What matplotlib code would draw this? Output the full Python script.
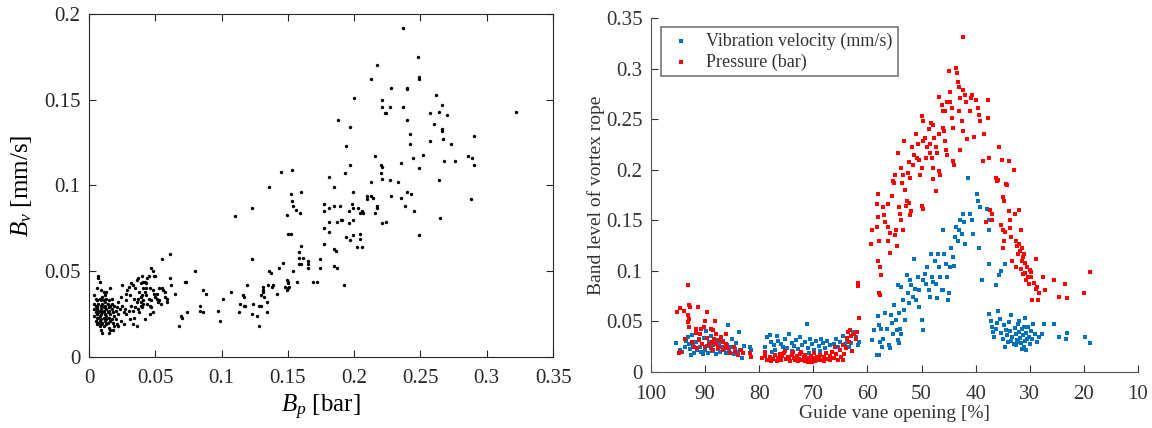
import numpy as np
import matplotlib
matplotlib.use("Agg")
import matplotlib.pyplot as plt
from matplotlib.ticker import FuncFormatter, MultipleLocator

plt.rcParams['font.family'] = ['Liberation Serif', 'DejaVu Serif']
plt.rcParams['mathtext.fontset'] = 'custom'
plt.rcParams['mathtext.rm'] = 'Liberation Serif'
plt.rcParams['mathtext.it'] = 'Liberation Serif:italic'

# ---- left panel: B_p [bar] vs B_v [mm/s] ----
bp_bv = [
    (0.237, 0.192), (0.248, 0.175), (0.249, 0.163), (0.249, 0.162), (0.217, 0.170), (0.213, 0.162),
    (0.228, 0.157), (0.240, 0.157), (0.240, 0.156), (0.200, 0.151), (0.221, 0.150), (0.221, 0.146),
    (0.227, 0.146), (0.223, 0.142), (0.224, 0.142), (0.237, 0.146), (0.240, 0.138), (0.188, 0.138),
    (0.262, 0.153), (0.257, 0.142), (0.264, 0.143), (0.270, 0.141), (0.266, 0.147), (0.260, 0.136),
    (0.266, 0.133), (0.266, 0.132), (0.322, 0.143), (0.197, 0.134), (0.242, 0.130), (0.242, 0.124),
    (0.273, 0.124), (0.267, 0.127), (0.257, 0.126), (0.290, 0.129), (0.194, 0.123), (0.197, 0.112),
    (0.216, 0.117), (0.220, 0.112), (0.221, 0.111), (0.235, 0.113), (0.244, 0.116), (0.252, 0.118),
    (0.268, 0.114), (0.276, 0.114), (0.286, 0.117), (0.289, 0.116), (0.290, 0.112), (0.249, 0.110),
    (0.220, 0.107), (0.221, 0.104), (0.193, 0.107), (0.145, 0.108), (0.153, 0.109), (0.136, 0.099),
    (0.213, 0.102), (0.227, 0.103), (0.233, 0.102), (0.264, 0.103), (0.181, 0.105), (0.185, 0.099),
    (0.152, 0.095), (0.153, 0.091), (0.154, 0.088), (0.160, 0.096), (0.199, 0.096), (0.240, 0.096),
    (0.243, 0.095), (0.210, 0.094), (0.213, 0.094), (0.214, 0.093), (0.228, 0.094), (0.235, 0.093),
    (0.288, 0.092), (0.177, 0.089), (0.217, 0.088), (0.217, 0.087), (0.238, 0.088), (0.181, 0.087),
    (0.185, 0.088), (0.189, 0.088), (0.177, 0.085), (0.198, 0.089), (0.199, 0.087), (0.203, 0.087),
    (0.206, 0.085), (0.207, 0.084), (0.204, 0.084), (0.196, 0.085), (0.210, 0.092), (0.159, 0.084),
    (0.156, 0.086), (0.149, 0.083), (0.216, 0.084), (0.245, 0.085), (0.123, 0.087), (0.110, 0.082),
    (0.181, 0.079), (0.187, 0.079), (0.190, 0.080), (0.191, 0.080), (0.199, 0.080), (0.196, 0.078),
    (0.221, 0.078), (0.224, 0.079), (0.265, 0.081), (0.177, 0.075), (0.181, 0.073), (0.150, 0.072),
    (0.152, 0.072), (0.194, 0.070), (0.199, 0.071), (0.204, 0.072), (0.204, 0.069), (0.197, 0.068),
    (0.249, 0.071), (0.177, 0.066), (0.160, 0.065), (0.202, 0.064), (0.206, 0.064), (0.158, 0.061),
    (0.158, 0.058), (0.161, 0.058), (0.185, 0.063), (0.186, 0.062), (0.123, 0.057), (0.158, 0.054),
    (0.160, 0.054), (0.165, 0.056), (0.165, 0.054), (0.165, 0.052), (0.174, 0.057), (0.174, 0.052),
    (0.185, 0.053), (0.187, 0.052), (0.146, 0.055), (0.143, 0.052), (0.136, 0.050), (0.137, 0.049),
    (0.154, 0.050), (0.157, 0.044), (0.169, 0.044), (0.172, 0.044), (0.150, 0.044), (0.150, 0.043),
    (0.149, 0.045), (0.192, 0.042), (0.135, 0.042), (0.138, 0.041), (0.139, 0.042), (0.119, 0.042),
    (0.131, 0.041), (0.131, 0.039), (0.148, 0.041), (0.150, 0.040), (0.149, 0.039), (0.151, 0.041),
    (0.131, 0.038), (0.142, 0.037), (0.107, 0.038), (0.130, 0.036), (0.132, 0.035), (0.101, 0.034),
    (0.116, 0.036), (0.117, 0.035), (0.117, 0.030), (0.134, 0.032), (0.114, 0.031), (0.118, 0.030),
    (0.124, 0.031), (0.128, 0.030), (0.130, 0.030), (0.134, 0.026), (0.113, 0.026), (0.123, 0.025),
    (0.127, 0.024), (0.097, 0.027), (0.099, 0.021), (0.128, 0.018), (0.084, 0.030), (0.084, 0.027),
    (0.086, 0.026), (0.086, 0.039), (0.088, 0.037), (0.080, 0.050), (0.072, 0.044), (0.073, 0.044),
    (0.074, 0.026), (0.069, 0.024), (0.070, 0.023), (0.068, 0.018), (0.055, 0.057), (0.061, 0.060),
    (0.061, 0.046), (0.062, 0.042), (0.065, 0.037),
    # middle cluster
    (0.024, 0.035), (0.025, 0.030), (0.027, 0.028), (0.028, 0.033), (0.025, 0.042), (0.028, 0.037),
    (0.030, 0.041), (0.031, 0.036), (0.033, 0.042), (0.032, 0.030), (0.033, 0.027), (0.034, 0.034),
    (0.035, 0.040), (0.036, 0.045), (0.037, 0.046), (0.038, 0.038), (0.039, 0.043), (0.040, 0.047),
    (0.041, 0.044), (0.042, 0.044), (0.043, 0.043), (0.040, 0.036), (0.041, 0.033), (0.042, 0.038),
    (0.043, 0.036), (0.044, 0.031), (0.045, 0.034), (0.046, 0.040), (0.047, 0.052), (0.048, 0.050),
    (0.045, 0.047), (0.049, 0.047), (0.050, 0.047), (0.048, 0.039), (0.049, 0.037), (0.048, 0.026),
    (0.047, 0.029), (0.050, 0.035), (0.051, 0.034), (0.052, 0.032), (0.053, 0.033), (0.054, 0.031),
    (0.055, 0.040), (0.056, 0.039), (0.057, 0.035), (0.059, 0.034), (0.059, 0.032), (0.053, 0.040),
    (0.036, 0.032), (0.035, 0.029), (0.037, 0.028), (0.038, 0.026), (0.039, 0.030), (0.040, 0.029),
    (0.034, 0.023), (0.033, 0.019), (0.036, 0.018), (0.042, 0.022), (0.046, 0.025), (0.026, 0.026),
    (0.028, 0.025), (0.030, 0.027), (0.031, 0.022), (0.029, 0.039), (0.032, 0.043), (0.044, 0.046),
    (0.043, 0.040), (0.041, 0.040), (0.039, 0.035), (0.037, 0.034), (0.039, 0.032), (0.041, 0.031),
    (0.023, 0.028), (0.022, 0.032), (0.024, 0.021), (0.026, 0.019), (0.047, 0.033), (0.046, 0.030),
    (0.057, 0.038), (0.051, 0.037),
    # dense cluster near origin
    (0.007, 0.047), (0.007, 0.046), (0.008, 0.044), (0.006, 0.040), (0.009, 0.039), (0.011, 0.038),
    (0.013, 0.038), (0.016, 0.040), (0.012, 0.036), (0.004, 0.036), (0.005, 0.034), (0.006, 0.033),
    (0.008, 0.034), (0.010, 0.035), (0.011, 0.033), (0.013, 0.034), (0.015, 0.033), (0.004, 0.031),
    (0.005, 0.030), (0.007, 0.031), (0.009, 0.030), (0.010, 0.031), (0.012, 0.030), (0.014, 0.031),
    (0.016, 0.030), (0.004, 0.028), (0.006, 0.028), (0.008, 0.027), (0.009, 0.028), (0.011, 0.027),
    (0.013, 0.028), (0.015, 0.027), (0.017, 0.028), (0.005, 0.026), (0.006, 0.025), (0.007, 0.026),
    (0.009, 0.025), (0.010, 0.026), (0.012, 0.025), (0.014, 0.026), (0.016, 0.025), (0.018, 0.026),
    (0.004, 0.024), (0.006, 0.023), (0.008, 0.024), (0.009, 0.022), (0.011, 0.023), (0.013, 0.024),
    (0.015, 0.023), (0.017, 0.022), (0.019, 0.024), (0.005, 0.021), (0.007, 0.020), (0.008, 0.021),
    (0.010, 0.020), (0.012, 0.021), (0.014, 0.020), (0.016, 0.021), (0.018, 0.020), (0.006, 0.019),
    (0.008, 0.018), (0.009, 0.019), (0.011, 0.018), (0.013, 0.019), (0.015, 0.017), (0.009, 0.016),
    (0.010, 0.014), (0.015, 0.014), (0.016, 0.016), (0.020, 0.022), (0.021, 0.019), (0.022, 0.018),
    (0.020, 0.027), (0.021, 0.029), (0.022, 0.025), (0.019, 0.030), (0.017, 0.034), (0.006, 0.029),
    (0.007, 0.023), (0.011, 0.029), (0.013, 0.022), (0.015, 0.029), (0.012, 0.032), (0.009, 0.033),
    (0.017, 0.031), (0.019, 0.018), (0.018, 0.016),
]

# ---- right panel: guide vane opening [%] vs band level ----
opening_vib = [
    95.3, 94.6, 94.3, 93.8, 93.5, 93.2, 93.0, 92.8, 92.5, 92.2, 92.0, 91.7, 91.5, 91.2, 91.0, 90.8,
    90.5, 90.2, 90.0, 89.7, 89.5, 89.2, 89.0, 88.7, 88.5, 88.2, 88.0, 87.7, 87.5, 87.2, 87.0, 86.7,
    86.5, 86.2, 86.0, 85.7, 85.5, 85.2, 85.0, 84.7, 84.5, 84.2, 84.0, 83.7, 83.5, 83.2, 82.8, 81.7,
    81.5, 89.8, 92.6, 90.3, 88.9,
    79.0, 78.5, 78.0, 77.8, 77.3, 77.0, 76.5, 76.0, 75.6, 75.2, 74.8, 74.5, 74.0, 73.6, 73.2, 72.8,
    72.5, 72.0, 71.6, 71.2, 71.0, 70.6, 70.2, 69.8, 69.5, 69.0, 68.6, 68.2, 67.8, 67.4, 67.0, 66.6,
    66.2, 65.8, 65.4, 65.0, 64.6, 64.2, 63.8, 63.4, 63.0, 62.6, 62.2, 61.8, 61.5, 73.9, 70.8, 68.8,
    75.8, 77.6, 76.8,
    59.1, 58.8, 58.3, 57.9, 58.1, 57.8, 57.5, 57.7, 57.3, 57.1, 56.8, 56.4, 56.1, 55.9, 55.6, 55.4,
    55.2, 55.1, 54.8, 54.6, 54.4, 54.2, 54.1, 53.9, 53.8, 54.4, 53.8, 53.4, 53.2, 53.1, 52.7, 52.5,
    52.4, 52.1, 51.9, 51.6, 51.4, 51.2, 51.0, 50.7, 50.5, 50.4, 50.0, 49.8, 49.7, 49.3, 49.1, 48.9,
    48.7, 48.5, 48.2, 48.0, 47.8, 47.6, 47.4, 47.2, 46.9, 46.7, 46.5, 46.3, 46.1, 46.0, 45.8, 45.5,
    45.3, 45.1, 44.9, 44.7, 44.5, 44.2, 44.0, 43.8, 43.7, 43.3, 43.0, 42.8, 42.6, 42.3, 42.1, 41.9,
    41.5, 41.0, 40.6, 40.4, 39.7, 39.6, 39.4, 39.1, 38.8, 37.9, 37.6, 37.6, 37.6,
    37.5, 37.2, 37.0, 36.8, 36.6, 36.3, 36.0, 35.8, 35.5, 35.3, 35.0, 34.8, 34.6, 34.4, 34.2, 34.0,
    33.8, 33.6, 33.4, 33.2, 33.0, 32.8, 32.6, 32.4, 32.2, 32.0, 31.8, 31.6, 31.4, 31.2, 31.0, 30.9,
    30.8, 30.6, 30.4, 30.2, 30.0, 29.8, 29.6, 29.4, 29.0, 28.6, 28.2, 27.8, 27.3, 25.5, 24.5, 23.3,
    23.2, 19.8, 18.9, 32.5, 31.5, 31.1, 30.7, 32.1, 33.5, 31.9, 30.5, 36.2, 35.6, 35.4, 34.6,
]
vib = [
    0.029, 0.022, 0.020, 0.025, 0.031, 0.035, 0.028, 0.023, 0.037, 0.026, 0.019, 0.030, 0.022, 0.033, 0.025, 0.020,
    0.028, 0.034, 0.022, 0.026, 0.019, 0.030, 0.024, 0.021, 0.027, 0.032, 0.018, 0.023, 0.028, 0.020, 0.025, 0.031,
    0.022, 0.019, 0.027, 0.046, 0.021, 0.025, 0.033, 0.018, 0.023, 0.029, 0.020, 0.040, 0.022, 0.014, 0.026, 0.025,
    0.022, 0.041, 0.017, 0.018, 0.036,
    0.025, 0.035, 0.037, 0.030, 0.027, 0.022, 0.031, 0.028, 0.025, 0.033, 0.024, 0.038, 0.029, 0.026, 0.032, 0.023,
    0.035, 0.027, 0.030, 0.047, 0.024, 0.033, 0.028, 0.022, 0.031, 0.026, 0.033, 0.029, 0.024, 0.031, 0.027, 0.020,
    0.028, 0.033, 0.025, 0.030, 0.036, 0.028, 0.032, 0.025, 0.029, 0.040, 0.035, 0.027, 0.030, 0.021, 0.019, 0.021,
    0.018, 0.020, 0.036,
    0.032, 0.042, 0.017, 0.017, 0.055, 0.046, 0.043, 0.030, 0.025, 0.033, 0.058, 0.043, 0.027, 0.024, 0.056, 0.048,
    0.038, 0.066, 0.051, 0.042, 0.032, 0.029, 0.058, 0.043, 0.038, 0.086, 0.084, 0.071, 0.061, 0.051, 0.096, 0.078,
    0.068, 0.091, 0.086, 0.074, 0.112, 0.082, 0.071, 0.094, 0.081, 0.064, 0.051, 0.042, 0.091, 0.097, 0.087, 0.104,
    0.081, 0.074, 0.117, 0.094, 0.089, 0.110, 0.087, 0.073, 0.117, 0.104, 0.094, 0.081, 0.081, 0.140, 0.117, 0.107,
    0.094, 0.071, 0.078, 0.104, 0.123, 0.114, 0.105, 0.133, 0.143, 0.130, 0.140, 0.150, 0.136, 0.156, 0.148, 0.127,
    0.192, 0.156, 0.150, 0.136, 0.176, 0.169, 0.123, 0.163, 0.091, 0.161, 0.150, 0.140, 0.107,
    0.057, 0.050, 0.045, 0.040, 0.035, 0.043, 0.048, 0.060, 0.052, 0.039, 0.033, 0.046, 0.025, 0.042, 0.037, 0.030,
    0.049, 0.041, 0.056, 0.035, 0.028, 0.044, 0.038, 0.032, 0.047, 0.040, 0.034, 0.029, 0.043, 0.037, 0.025, 0.053,
    0.031, 0.039, 0.045, 0.035, 0.028, 0.041, 0.033, 0.047, 0.038, 0.030, 0.035, 0.038, 0.047, 0.047, 0.035, 0.033,
    0.039, 0.035, 0.029, 0.027, 0.023, 0.045, 0.022, 0.030, 0.031, 0.050, 0.033, 0.086, 0.096, 0.100, 0.107,
]

opening_p = [
    95.2, 94.6, 93.9, 93.1, 92.9, 92.8, 93.1, 93.0, 93.1, 92.9, 93.8, 91.4, 91.7, 91.6, 89.7, 90.1,
    90.2, 90.8, 91.0, 88.9, 88.6, 88.1, 92.5, 92.1, 91.5, 94.5, 94.8, 89.6, 89.3, 89.0, 88.6, 88.0,
    87.5, 87.4, 87.1, 86.7, 86.6, 86.1, 85.7, 85.4, 84.7, 84.4, 84.0, 83.4, 83.0, 81.7, 81.6, 91.1,
    90.6, 90.1, 88.8, 88.4, 87.9, 87.7, 86.4, 86.2,
    79.5, 79.0, 78.5, 78.0, 77.5, 77.0, 76.8, 76.5, 76.0, 75.8, 75.5, 75.0, 74.7, 74.3, 74.0, 73.6,
    73.3, 73.0, 72.7, 72.4, 72.0, 71.8, 71.5, 71.2, 71.0, 70.8, 70.5, 70.2, 70.0, 69.7, 69.4, 69.0,
    68.7, 68.4, 68.0, 67.7, 67.4, 67.0, 66.5, 66.2, 65.8, 65.5, 65.1, 64.8, 64.5, 64.3, 64.0, 63.8,
    63.6, 63.4, 63.2, 63.0, 62.8, 62.5, 62.2, 61.9, 61.7, 61.7, 61.6, 77.8, 76.2, 74.5, 72.9, 71.6,
    70.3, 69.2, 68.1, 66.9, 65.9, 64.6, 78.9, 75.2, 73.8, 72.2, 69.9,
    59.1, 59.3, 58.0, 58.3, 58.1, 58.3, 57.9, 58.1, 57.7, 57.4, 57.8, 57.7, 57.1, 57.0, 56.8, 56.2,
    56.2, 55.9, 56.2, 55.8, 55.4, 55.2, 54.9, 55.1, 54.8, 54.9, 54.6, 54.4, 54.1, 53.9, 53.8, 53.5,
    53.8, 53.4, 53.6, 53.1, 52.7, 52.9, 53.2, 52.4, 52.5, 52.1, 52.3, 51.9, 52.2, 51.7, 51.4, 51.6,
    51.0, 50.7, 50.9, 50.4, 50.0, 50.2, 50.0, 49.7, 49.8, 49.3, 49.0, 49.1, 50.0, 49.7, 48.6, 48.5,
    48.4, 48.2, 47.9, 47.7, 48.0, 47.8, 47.9, 47.4, 47.2, 47.4, 46.8, 46.5, 46.7, 46.7, 46.3, 46.1,
    46.0, 45.8, 45.7, 45.5, 45.3, 45.0, 44.7, 44.8, 44.4, 44.3, 44.2, 44.2, 44.0, 43.7, 43.5, 43.3,
    43.0, 42.8, 43.1, 42.6, 42.4, 42.8, 42.4, 42.3, 41.9, 41.7, 41.6, 41.0, 40.8, 40.6, 40.3, 40.0,
    39.6, 39.3, 39.1, 38.6, 38.4, 37.8, 37.7, 37.6, 37.0, 36.9, 36.2, 36.0, 35.6, 35.2, 34.9, 34.8,
    35.0, 34.8, 34.9, 34.2, 33.9, 33.9, 33.6, 33.4, 33.2, 32.9, 32.7, 32.5, 32.5, 32.2, 32.0, 31.9,
    31.7, 31.5, 31.4, 31.2, 31.0, 30.7, 30.5, 30.2, 29.9, 29.7, 29.5, 28.8, 28.7, 28.5, 28.2, 27.6,
    27.2, 25.5, 24.5, 23.5, 23.2, 19.9, 18.9, 45.7, 45.3, 31.8, 31.3, 30.9, 31.6, 32.3, 30.8, 29.8,
    30.3, 29.3, 28.9, 35.3, 34.6, 33.7, 35.8, 34.4, 38.0, 37.3,
]
pres = [
    0.059, 0.063, 0.060, 0.086, 0.066, 0.064, 0.056, 0.052, 0.049, 0.045, 0.033, 0.064, 0.043, 0.039, 0.059, 0.050,
    0.045, 0.043, 0.038, 0.043, 0.042, 0.050, 0.030, 0.025, 0.024, 0.020, 0.019, 0.034, 0.028, 0.025, 0.022, 0.038,
    0.032, 0.025, 0.035, 0.030, 0.022, 0.028, 0.024, 0.019, 0.025, 0.020, 0.017, 0.022, 0.019, 0.019, 0.015, 0.032,
    0.028, 0.025, 0.030, 0.033, 0.028, 0.024, 0.025, 0.038,
    0.014, 0.016, 0.012, 0.015, 0.013, 0.017, 0.011, 0.014, 0.012, 0.016, 0.019, 0.013, 0.015, 0.011, 0.017, 0.014,
    0.012, 0.016, 0.013, 0.018, 0.012, 0.015, 0.011, 0.014, 0.010, 0.013, 0.016, 0.012, 0.014, 0.011, 0.015, 0.013,
    0.017, 0.012, 0.015, 0.019, 0.013, 0.016, 0.020, 0.014, 0.018, 0.012, 0.022, 0.015, 0.027, 0.018, 0.024, 0.034,
    0.040, 0.030, 0.042, 0.036, 0.021, 0.038, 0.033, 0.040, 0.088, 0.085, 0.053, 0.011, 0.018, 0.013, 0.011, 0.017,
    0.010, 0.012, 0.011, 0.012, 0.025, 0.012, 0.020, 0.021, 0.020, 0.020, 0.019,
    0.140, 0.127, 0.176, 0.166, 0.153, 0.143, 0.130, 0.110, 0.104, 0.096, 0.078, 0.076, 0.163, 0.155, 0.148, 0.166,
    0.143, 0.137, 0.130, 0.118, 0.174, 0.189, 0.195, 0.187, 0.140, 0.135, 0.125, 0.217, 0.163, 0.156, 0.150, 0.140,
    0.202, 0.195, 0.187, 0.180, 0.169, 0.164, 0.228, 0.208, 0.197, 0.192, 0.167, 0.159, 0.155, 0.222, 0.215, 0.205,
    0.235, 0.225, 0.212, 0.210, 0.202, 0.195, 0.253, 0.248, 0.228, 0.231, 0.222, 0.212, 0.164, 0.161, 0.240, 0.225,
    0.217, 0.246, 0.244, 0.231, 0.212, 0.202, 0.191, 0.222, 0.217, 0.179, 0.199, 0.195, 0.235, 0.272, 0.264, 0.258,
    0.241, 0.238, 0.228, 0.220, 0.215, 0.298, 0.277, 0.267, 0.261, 0.251, 0.241, 0.209, 0.205, 0.301, 0.296, 0.287,
    0.282, 0.271, 0.258, 0.248, 0.238, 0.220, 0.331, 0.279, 0.274, 0.267, 0.230, 0.258, 0.271, 0.274, 0.232, 0.269,
    0.261, 0.254, 0.248, 0.209, 0.235, 0.269, 0.251, 0.212, 0.156, 0.150, 0.192, 0.189, 0.222, 0.210, 0.173, 0.169,
    0.140, 0.130, 0.123, 0.185, 0.209, 0.159, 0.150, 0.133, 0.110, 0.200, 0.156, 0.130, 0.104, 0.117, 0.127, 0.160,
    0.140, 0.123, 0.110, 0.097, 0.117, 0.091, 0.104, 0.087, 0.101, 0.094, 0.071, 0.112, 0.084, 0.071, 0.078, 0.094,
    0.081, 0.091, 0.074, 0.087, 0.073, 0.078, 0.099, 0.258, 0.267, 0.120, 0.114, 0.108, 0.102, 0.125, 0.098, 0.099,
    0.094, 0.088, 0.082, 0.145, 0.138, 0.142, 0.190, 0.186, 0.148, 0.160,
]

fmt = FuncFormatter(lambda v, p: f"{v:g}")

fig = plt.figure(figsize=(11.52, 4.28), dpi=100)

# left
ax1 = fig.add_axes([0.0773, 0.1659, 0.4028, 0.8014])
bp, bv = np.array(bp_bv).T
ax1.scatter(bp, bv, s=6, c='black', marker='o', linewidths=0)
ax1.set_xlim(0, 0.35)
ax1.set_ylim(0, 0.2)
ax1.xaxis.set_major_locator(MultipleLocator(0.05))
ax1.yaxis.set_major_locator(MultipleLocator(0.05))
ax1.xaxis.set_major_formatter(fmt)
ax1.yaxis.set_major_formatter(fmt)
ax1.tick_params(direction='in', top=True, right=True, length=5, labelsize=15, colors='#262626')
ax1.tick_params(axis='x', pad=9)
ax1.tick_params(axis='y', pad=6)
for s in ax1.spines.values():
    s.set_color('#262626')
ax1.set_xlabel(r'$B_p$ [bar]', fontsize=18)
ax1.set_ylabel(r'$B_v$ [mm/s]', fontsize=18)
ax1.xaxis.set_label_coords(0.5, -0.105)
ax1.yaxis.set_label_coords(-0.118, 0.5)

# right
ax2 = fig.add_axes([0.5651, 0.1308, 0.4227, 0.8271])
ax2.scatter(opening_vib, vib, s=8, c='#0072BD', marker='s', linewidths=0,
            label='Vibration velocity (mm/s)')
ax2.scatter(opening_p, pres, s=8, c='#FF0000', marker='s', linewidths=0,
            label='Pressure (bar)')
ax2.set_xlim(100, 10)
ax2.set_ylim(0, 0.35)
ax2.xaxis.set_major_locator(MultipleLocator(10))
ax2.yaxis.set_major_locator(MultipleLocator(0.05))
ax2.xaxis.set_major_formatter(fmt)
ax2.yaxis.set_major_formatter(fmt)
ax2.spines['top'].set_visible(False)
ax2.spines['right'].set_visible(False)
for s in ['left', 'bottom']:
    ax2.spines[s].set_color('#555555')
ax2.tick_params(direction='in', length=5, labelsize=15, colors='#333333')
ax2.tick_params(axis='x', pad=9)
ax2.tick_params(axis='y', pad=6)
ax2.set_xlabel('Guide vane opening [%]', fontsize=14, color='#333333')
ax2.set_ylabel('Band level of vortex rope', fontsize=14, color='#333333')
ax2.xaxis.set_label_coords(0.5, -0.093)
ax2.yaxis.set_label_coords(-0.095, 0.5)
leg = ax2.legend(loc='upper left', bbox_to_anchor=(0.02, 0.975), borderaxespad=0,
                 fontsize=13, fancybox=False, markerscale=1.0, handletextpad=0.6,
                 borderpad=0.3, labelspacing=0.2, handlelength=1.6)
leg.get_frame().set_edgecolor('#555555')
leg.get_frame().set_linewidth(1.2)
for t in leg.get_texts():
    t.set_color('#333333')

fig.savefig('out.png', dpi=100)
